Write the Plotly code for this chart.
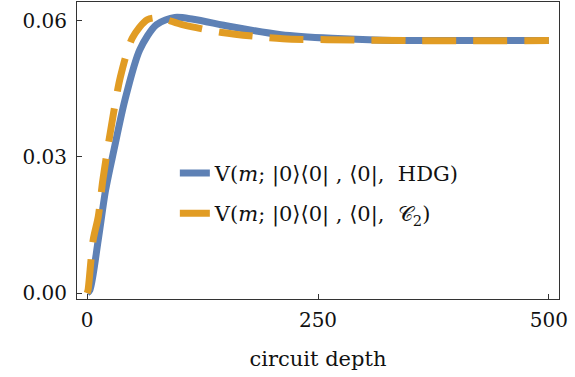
import plotly.graph_objects as go

# Data
hdg_depth = [0, 3, 12, 20, 29, 41, 57, 75, 95, 115, 155, 210, 265, 320, 400, 500]
hdg_value = [0.0, 0.0007, 0.0117, 0.0227, 0.0315, 0.0426, 0.0536, 0.0591, 0.0607,
             0.0603, 0.0587, 0.0569, 0.0561, 0.0557, 0.0556, 0.0556]

c2_depth = [0, 1, 6.5, 12, 17, 25, 36, 49, 65, 78, 103, 146, 212, 260, 350, 500]
c2_value = [0.0, 0.0007, 0.0117, 0.0168, 0.0249, 0.0353, 0.0476, 0.0562, 0.0602,
            0.0606, 0.0591, 0.0574, 0.0560, 0.0558, 0.0556, 0.0556]

x_ticks = [0, 250, 500]
y_ticks = [0.00, 0.03, 0.06]
y_tick_labels = ["0.00", "0.03", "0.06"]

S = "\u00a0"
name_hdg = f"V(<i>m</i>;{S}|0⟩⟨0|{S},{S}⟨0|,{S}{S}HDG)"
name_c2 = f"V(<i>m</i>;{S}|0⟩⟨0|{S},{S}⟨0|,{S}{S}𝒞<sub>2</sub>)"

FONT = "DejaVu Serif"
BLUE = "#5E81B5"
ORANGE = "#E19C24"

fig = go.Figure()
fig.add_trace(go.Scatter(x=hdg_depth, y=hdg_value, mode="lines", name=name_hdg,
                         legendgroup="a",
                         line=dict(color=BLUE, width=7, shape="spline", smoothing=0.8)))
fig.add_trace(go.Scatter(x=c2_depth, y=c2_value, mode="lines", name=name_c2,
                         legendgroup="b",
                         line=dict(color=ORANGE, width=7, shape="spline", smoothing=0.8,
                                   dash="34px,17px")))

axis_common = dict(showline=True, mirror=True, linecolor="#333333", linewidth=1,
                   ticks="inside", ticklen=5, tickcolor="#333333", showgrid=False,
                   zeroline=False, automargin=False,
                   tickfont=dict(family=FONT, size=20, color="#111111"))

fig.update_layout(
    width=575, height=377,
    margin=dict(l=77, r=16, t=2, b=78),
    plot_bgcolor="white", paper_bgcolor="white",
    font=dict(family=FONT, size=20, color="#111111"),
    xaxis=dict(range=[-11, 511], tickvals=x_ticks, ticklabelstandoff=3,
               title=dict(text="circuit depth", standoff=20, font=dict(family=FONT, size=21)),
               **axis_common),
    yaxis=dict(range=[-0.0013, 0.0641], tickvals=y_ticks, ticktext=y_tick_labels,
               ticklabelstandoff=5, **axis_common),
    legend=dict(x=0.203, y=0.356, xanchor="left", yanchor="middle", bgcolor="rgba(0,0,0,0)",
                font=dict(family=FONT, size=21), tracegroupgap=10, traceorder="grouped"),
    showlegend=True,
)

fig.write_html("out.html", config={"displayModeBar": False},
               post_script="document.body.style.margin='0';")
